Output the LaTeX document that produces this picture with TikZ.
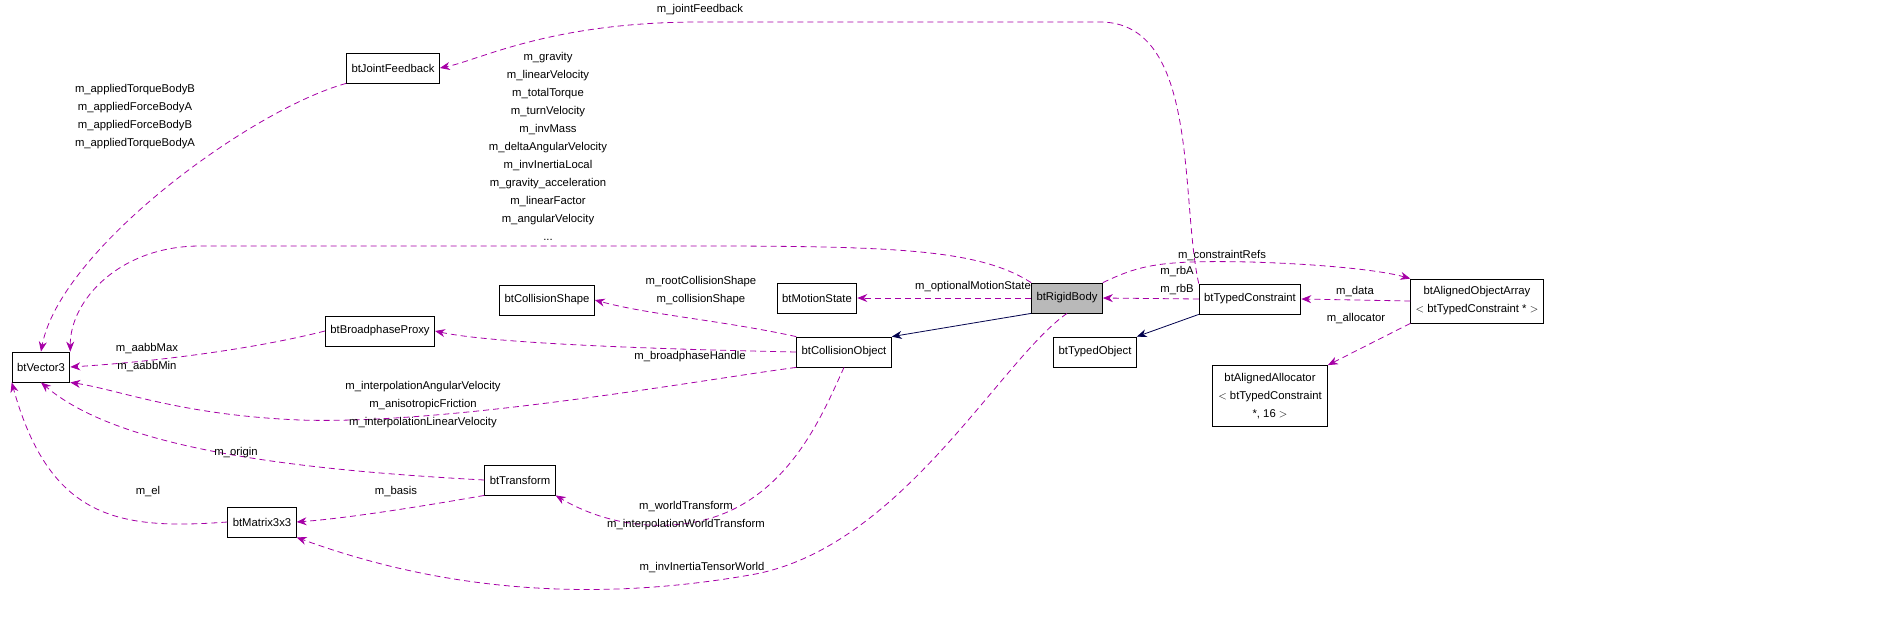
\documentclass[tikz,border=0pt]{standalone}
\usepackage{fontspec}
\setmainfont{Liberation Sans}
\usetikzlibrary{arrows.meta}
\begin{document}
\begin{tikzpicture}[x=1pt,y=-1pt,font=\fontsize{11.3}{18}\selectfont,
 box/.style={draw,thick,minimum height=30pt,inner xsep=5pt,align=center},
 dep/.style={draw=violet!70!magenta,dash pattern=on 6pt off 4pt,thick,-{Stealth[length=10pt,width=8pt]}},
 inh/.style={draw=blue!30!black,thick,-{Stealth[length=10pt,width=8pt]}},
 lab/.style={align=center,inner sep=1pt}]
\useasboundingbox (0,0) rectangle (1899,638);
\node[box] (vec) at (41,367) {btVector3};
\node[box] (jf) at (393,68) {btJointFeedback};
\node[box] (bp) at (380,331) {btBroadphaseProxy};
\node[box] (cs) at (547,300) {btCollisionShape};
\node[box] (tr) at (520,480) {btTransform};
\node[box] (mat) at (262,522) {btMatrix3x3};
\node[box] (co) at (844,352) {btCollisionObject};
\node[box] (ms) at (817,298) {btMotionState};
\node[box,fill=gray!55] (rb) at (1067,298) {btRigidBody};
\node[box] (to) at (1095,352) {btTypedObject};
\node[box] (tc) at (1250,299) {btTypedConstraint};
\node[box,minimum height=44pt,minimum width=126pt] (aoa) at (1477,301) {btAlignedObjectArray\\$<$ btTypedConstraint * $>$};
\node[box,minimum height=61pt,minimum width=115pt] (aa) at (1270,396) {btAlignedAllocator\\$<$ btTypedConstraint\\*, 16 $>$};

\draw[dep] (jf.south west) .. controls (250,110) and (60,250) .. (vec.north);
\node[lab] at (135,117) {m\_appliedTorqueBodyB\\m\_appliedForceBodyA\\m\_appliedForceBodyB\\m\_appliedTorqueBodyA};
\draw[dep] (tc.north west) .. controls (1180,200) and (1200,22) .. (1100,22) -- (700,22) .. controls (550,22) and (480,60) .. (jf.east);
\node[lab] at (700,10) {m\_jointFeedback};
\draw[dep] (rb.north west) .. controls (980,250) and (900,246) .. (700,246) -- (200,246) .. controls (120,246) and (70,300) .. (vec.north east);
\node[lab] at (548,146) {m\_gravity\\m\_linearVelocity\\m\_totalTorque\\m\_turnVelocity\\m\_invMass\\m\_deltaAngularVelocity\\m\_invInertiaLocal\\m\_gravity\_acceleration\\m\_linearFactor\\m\_angularVelocity\\...};
\draw[dep] (bp.west) .. controls (250,350) and (150,362) .. (vec.east);
\node[lab] at (147,358) {m\_aabbMax\\m\_aabbMin};
\draw[dep] (co.west) .. controls (700,350) and (500,345) .. (bp.east);
\node[lab] at (690,357) {m\_broadphaseHandle};
\draw[dep] (co.north west) .. controls (720,320) and (650,315) .. (cs.east);
\node[lab] at (701,291) {m\_rootCollisionShape\\m\_collisionShape};
\draw[dep] (co.south west) .. controls (700,380) and (450,425) .. (300,420) .. controls (180,415) and (120,390) .. (vec.south east);
\node[lab] at (423,405) {m\_interpolationAngularVelocity\\m\_anisotropicFriction\\m\_interpolationLinearVelocity};
\draw[dep] (tr.west) .. controls (300,470) and (120,450) .. (vec.south);
\node[lab] at (236,453) {m\_origin};
\draw[dep] (tr.south west) .. controls (430,505) and (350,518) .. (mat.east);
\node[lab] at (396,492) {m\_basis};
\draw[dep] (mat.west) .. controls (120,530) and (50,520) .. (vec.south west);
\node[lab] at (148,492) {m\_el};
\draw[dep] (co.south) .. controls (820,420) and (780,520) .. (670,525) .. controls (620,528) and (580,510) .. (tr.south east);
\node[lab] at (686,516) {m\_worldTransform\\m\_interpolationWorldTransform};
\draw[dep] (rb.south) .. controls (1000,360) and (900,550) .. (750,575) .. controls (550,610) and (400,575) .. (mat.south east);
\node[lab] at (702,568) {m\_invInertiaTensorWorld};
\draw[dep] (rb.west) -- (ms.east);
\node[lab] at (973,287) {m\_optionalMotionState};
\draw[inh] (rb.south west) -- (co.north east);
\draw[dep] (tc.west) -- (rb.east);
\node[lab] at (1177,281) {m\_rbA\\m\_rbB};
\draw[inh] (tc.south west) -- (to.north east);
\draw[dep] (rb.north east) .. controls (1140,265) and (1160,260) .. (1250,262) .. controls (1320,264) and (1380,270) .. (aoa.north west);
\node[lab] at (1222,256) {m\_constraintRefs};
\draw[dep] (aoa.west) -- (tc.east);
\node[lab] at (1355,292) {m\_data};
\draw[dep] (aoa.south west) -- (aa.north east);
\node[lab] at (1356,319) {m\_allocator};
\end{tikzpicture}
\end{document}
